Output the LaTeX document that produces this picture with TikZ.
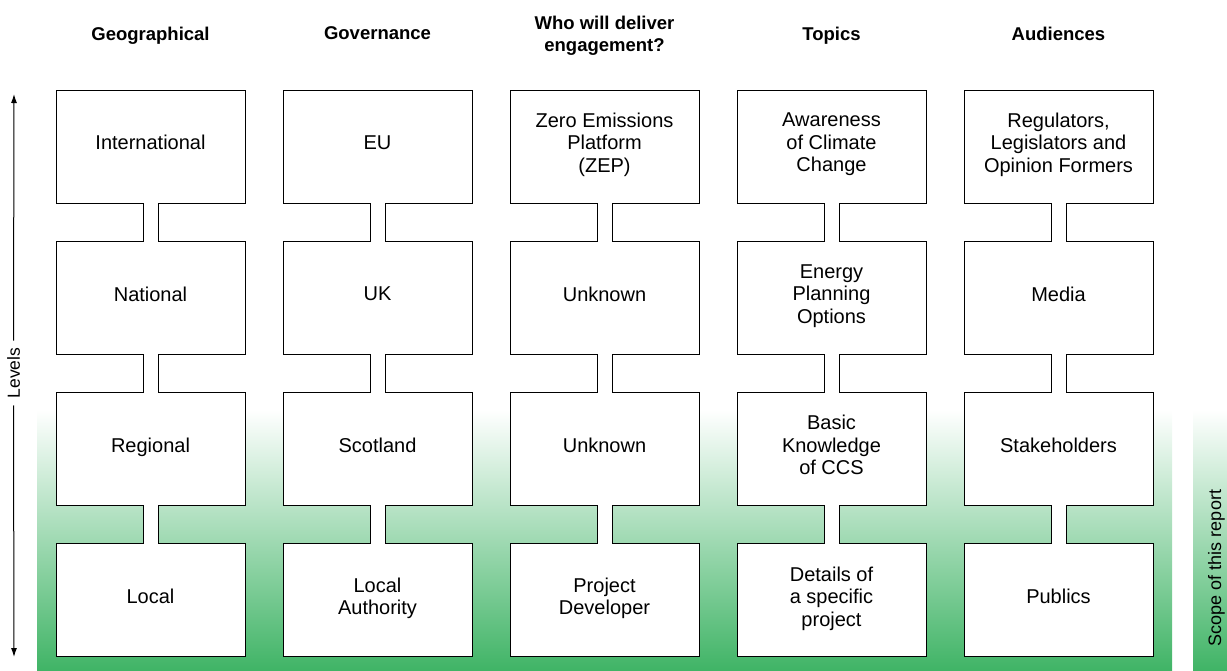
\documentclass[tikz,border=0pt]{standalone}
\usepackage{fontspec}
\setmainfont{Liberation Sans}
\usetikzlibrary{arrows.meta, positioning}
\definecolor{scopegreen}{RGB}{64,180,102}

\begin{document}
\begin{tikzpicture}[
    x=1pt, y=-1pt,
    >={Latex[length=9pt,width=6pt]},
    node distance=38.3pt and 38pt,
    level/.style={draw, rectangle, fill=white, line width=0.9pt, minimum width=189pt, minimum height=113pt, inner sep=0pt, outer sep=0pt, align=center, text depth=8pt, font=\fontsize{20}{22.5}\selectfont},
    head/.style={align=center, text depth=4pt, font=\bfseries\fontsize{18.5}{22}\selectfont},
    neck/.style={line width=0.9pt, line cap=rect},
    side/.style={rotate=90, inner sep=7pt, font=\fontsize{17.5}{20}\selectfont},
    arrow/.style={->, line width=1pt}
]
\useasboundingbox (0,0) rectangle (1227,670);

% Scope shading
\shade[top color=white, bottom color=scopegreen] (37,410) rectangle (1172,670);
\shade[top color=white, bottom color=scopegreen] (1193,410) rectangle (1227,670);

% Geographical column
\node[level] (geo1) at (150.5,146.5) {International};
\node[level, below=of geo1] (geo2) {National};
\node[level, below=of geo2] (geo3) {Regional};
\node[level, below=of geo3] (geo4) {Local};

% Governance column
\node[level, right=of geo1] (gov1) {EU};
\node[level, below=of gov1] (gov2) {UK};
\node[level, below=of gov2] (gov3) {Scotland};
\node[level, below=of gov3] (gov4) {Local\\Authority};

% Delivery column
\node[level, right=of gov1] (who1) {Zero Emissions\\Platform\\(ZEP)};
\node[level, below=of who1] (who2) {Unknown};
\node[level, below=of who2] (who3) {Unknown};
\node[level, below=of who3] (who4) {Project\\Developer};

% Topics column
\node[level, right=of who1] (top1) {Awareness\\of Climate\\Change};
\node[level, below=of top1] (top2) {Energy\\Planning\\Options};
\node[level, below=of top2] (top3) {Basic\\Knowledge\\of CCS};
\node[level, below=of top3] (top4) {Details of\\a specific\\project};

% Audiences column
\node[level, right=of top1] (aud1) {Regulators,\\Legislators and\\Opinion Formers};
\node[level, below=of aud1] (aud2) {Media};
\node[level, below=of aud2] (aud3) {Stakeholders};
\node[level, below=of aud3] (aud4) {Publics};

% Necks between levels
\foreach \c in {geo,gov,who,top,aud} {
  \foreach \a/\b in {1/2,2/3,3/4} {
    \fill[white] ([xshift=-7.5pt,yshift=1pt]\c\a.south) rectangle ([xshift=7.5pt,yshift=-1pt]\c\b.north);
    \draw[neck] ([xshift=-7.5pt]\c\a.south) -- ([xshift=-7.5pt]\c\b.north);
    \draw[neck] ([xshift=7.5pt]\c\a.south) -- ([xshift=7.5pt]\c\b.north);
  }
}

% Column headings
\coordinate (hrow) at (0,35.5);
\node[head] (hgeo) at (geo1 |- hrow) {Geographical};
\node[head] (hgov) at (gov1 |- hrow) {Governance};
\node[head] (hwho) at (who1 |- hrow) {Who will deliver\\engagement?};
\node[head] (htop) at (top1 |- hrow) {Topics};
\node[head] (haud) at (aud1 |- hrow) {Audiences};

% Levels axis
\node[side] (levels) at (13.5,373) {Levels};
\coordinate (lvtop) at (14,94);
\coordinate (lvbot) at (14,657);
\draw[arrow] (levels.east) -- (lvtop);
\draw[arrow] (levels.west) -- (lvbot);

% Scope label
\node[side, inner sep=0pt, font=\fontsize{18}{20}\selectfont] (scope) at (1216.5,568) {Scope of this report};

\end{tikzpicture}
\end{document}
